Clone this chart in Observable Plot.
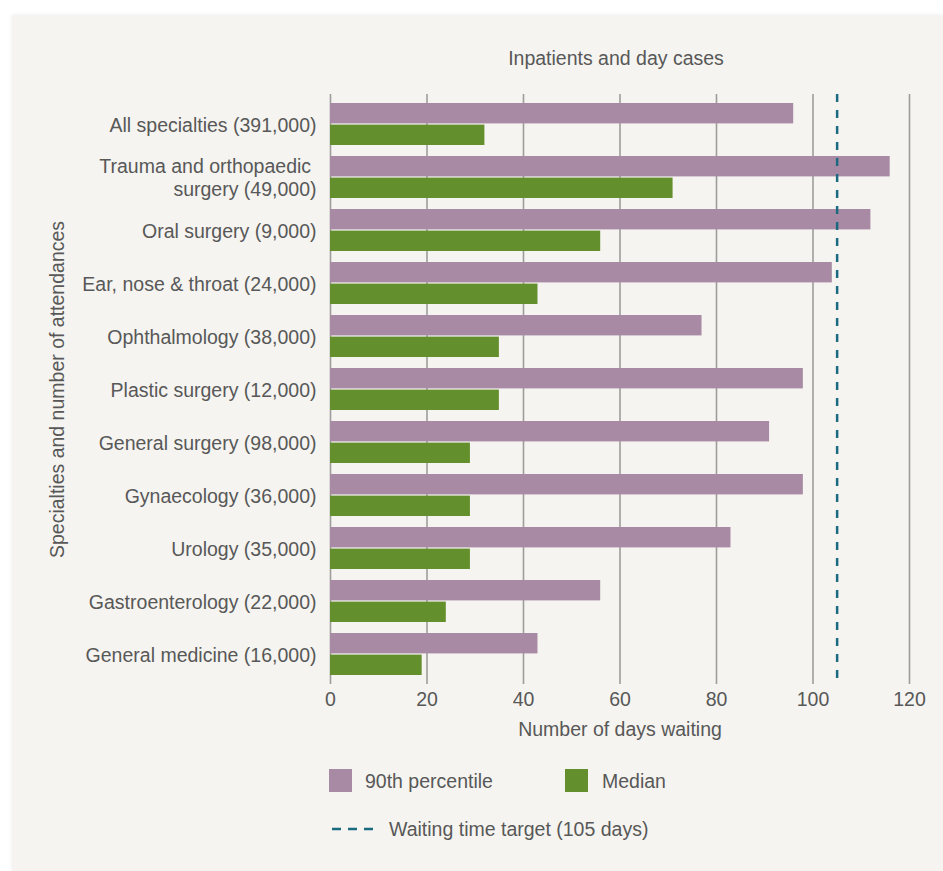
<!DOCTYPE html>
<html><head><meta charset="utf-8">
<script src="https://cdn.jsdelivr.net/npm/d3@7"></script>
<script src="https://cdn.jsdelivr.net/npm/@observablehq/plot@0.6"></script>
<style>
body{margin:0;background:#fff;font-family:"Liberation Sans",Arial,sans-serif;color:#585858;}
#panel{position:absolute;left:12px;top:15px;width:931px;height:856px;background:#f5f4f0;box-shadow:0 0 4px rgba(0,0,0,0.07);}
#chart{position:absolute;left:0;top:0;width:943px;}
#title{height:80px;position:relative;}
#title span{position:absolute;left:320px;width:592px;top:47px;text-align:center;font-size:19.5px;line-height:22px;}
#chart svg{display:block;}
#legend{position:relative;height:120px;font-size:19.5px;}
#legend .sw{position:absolute;width:23px;height:23px;}
#legend .lb{position:absolute;line-height:22px;white-space:nowrap;}
#legend svg{position:absolute;}
</style>
</head><body>
<div id="panel"></div>
<div id="chart">
  <div id="title"><span></span></div>
  <div id="plot"></div>
  <div id="legend"></div>
</div>
<script>
const title = "Inpatients and day cases";
const categories = [
  "All specialties (391,000)",
  "Trauma and orthopaedic\u00a0\nsurgery (49,000)",
  "Oral surgery (9,000)",
  "Ear, nose & throat (24,000)",
  "Ophthalmology (38,000)",
  "Plastic surgery (12,000)",
  "General surgery (98,000)",
  "Gynaecology (36,000)",
  "Urology (35,000)",
  "Gastroenterology (22,000)",
  "General medicine (16,000)"
];
const p90 = [96, 116, 112, 104, 77, 98, 91, 98, 83, 56, 43];
const median = [32, 71, 56, 43, 35, 35, 29, 29, 29, 24, 19];
const xTicks = [0, 20, 40, 60, 80, 100, 120];
const target = [105];
const seriesNames = ["90th percentile", "Median"];
const targetLabel = "Waiting time target (105 days)";
const xLabel = "Number of days waiting";
const yLabel = "Specialties and number of attendances";

const PURPLE = "#a98aa4", GREEN = "#648f2d", TEAL = "#1b6a80";

document.querySelector("#title span").textContent = title;

const rows = categories.map((c, i) => ({category: c, p90: p90[i], median: median[i]}));

const chart = Plot.plot({
  width: 943,
  height: 670,
  marginTop: 14,
  marginBottom: 66,
  marginLeft: 330,
  marginRight: 34,
  style: {background: "transparent", fontFamily: "Liberation Sans, Arial, sans-serif", fontSize: "19.5px", color: "#585858"},
  x: {domain: [0, 120]},
  y: {domain: categories, paddingInner: 0.215, paddingOuter: 0.13},
  marks: [
    Plot.ruleX(xTicks, {stroke: "#9d9d9d", strokeWidth: 1.6}),
    Plot.barX(rows, {x: "p90", y: "category", fill: PURPLE, insetBottom: 21.6}),
    Plot.barX(rows, {x: "median", y: "category", fill: GREEN, insetTop: 21.6}),
    Plot.ruleX(target, {stroke: TEAL, strokeWidth: 2.5, strokeDasharray: "8,8"}),
    Plot.axisX({ticks: xTicks, tickSize: 0, tickPadding: 8, label: xLabel, labelAnchor: "center", labelArrow: "none", labelOffset: 51.5}),
    Plot.axisY({tickSize: 0, tickPadding: 14, lineHeight: 1.15, label: yLabel, labelAnchor: "center", labelArrow: "none", labelOffset: 280})
  ]
});
document.getElementById("plot").appendChild(chart);

const legend = document.getElementById("legend");
const items = [
  {name: seriesNames[0], color: PURPLE, sx: 329, tx: 365},
  {name: seriesNames[1], color: GREEN, sx: 565, tx: 602}
];
for (const it of items) {
  const sw = document.createElement("div");
  sw.className = "sw"; sw.style.left = it.sx + "px"; sw.style.top = "19px"; sw.style.background = it.color;
  legend.appendChild(sw);
  const lb = document.createElement("div");
  lb.className = "lb"; lb.style.left = it.tx + "px"; lb.style.top = "20px"; lb.textContent = it.name;
  legend.appendChild(lb);
}
const ns = "http://www.w3.org/2000/svg";
const ls = document.createElementNS(ns, "svg");
ls.setAttribute("width", 50); ls.setAttribute("height", 10);
ls.style.left = "329px"; ls.style.top = "74px";
const ln = document.createElementNS(ns, "line");
ln.setAttribute("x1", 3); ln.setAttribute("x2", 44); ln.setAttribute("y1", 5); ln.setAttribute("y2", 5);
ln.setAttribute("stroke", TEAL); ln.setAttribute("stroke-width", 2.5); ln.setAttribute("stroke-dasharray", "9,7");
ls.appendChild(ln); legend.appendChild(ls);
const tl = document.createElement("div");
tl.className = "lb"; tl.style.left = "389px"; tl.style.top = "68px"; tl.textContent = targetLabel;
legend.appendChild(tl);
</script>
</body></html>
